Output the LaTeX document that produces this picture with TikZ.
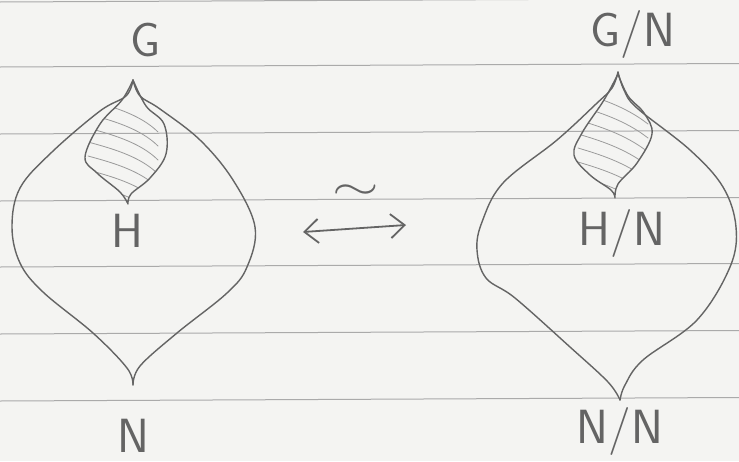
\documentclass[tikz,border=0pt]{standalone}
\usepackage{tikz}
\usepackage{graphicx}
\usetikzlibrary{arrows.meta,positioning}
\definecolor{paper}{RGB}{244,244,242}
\definecolor{rule}{RGB}{170,170,170}
\definecolor{pencil}{RGB}{100,100,100}
\definecolor{shade}{RGB}{155,155,155}

% inner (shaded) lobes
\newcommand{\innerL}{plot[smooth, tension=0.6] coordinates {(133,80) (122,100) (100,124) (85,157) (97,173) (120,192) (128,204)}
  -- plot[smooth, tension=0.6] coordinates {(128,204) (131,194) (150,178) (166,154) (164,124) (146,106) (133,80)}}
\newcommand{\innerR}{plot[smooth, tension=0.6] coordinates {(618,74) (604,100) (582,133) (574,155) (590,175) (611,190) (615,198)}
  -- plot[smooth, tension=0.6] coordinates {(615,198) (618,184) (637,163) (652,134) (644,113) (628,96) (618,74)}}

\begin{document}
\begin{tikzpicture}[
  x=1pt, y=-1pt,
  outline/.style={draw=pencil, line width=1.4pt, line join=round, line cap=round},
  hatch/.style={draw=shade, line width=0.8pt, line cap=round},
  label/.style={text=pencil, font=\fontsize{48}{56}\selectfont\sffamily, inner sep=0pt},
  ruled/.style={draw=rule, line width=1pt},
]
  \fill[paper] (0,0) rectangle (739,461);
  \useasboundingbox (0,0) rectangle (739,461);

  % ruled paper
  \foreach \y in {2,67,134,201,267,334,401}
    \draw[ruled] (0,\y) -- (739,\y-3.5);

  % Left
  \draw[outline] plot[smooth, tension=0.6] coordinates {(133,80) (126,96) (100,111) (52,152) (20,188) (12,227) (20,263) (43,292) (93,333) (127,368) (133,385)};
  \draw[outline] plot[smooth, tension=0.6] coordinates {(133,80) (140,96) (160,109) (200,140) (233,180) (255,227) (247,267) (227,293) (177,333) (140,366) (133,385)};
  \begin{scope}
    \clip \innerL -- cycle;
    \foreach \i in {0,...,6}
      \draw[hatch] (88,100+\i*14) .. controls (110,106+\i*14) and (140,114+\i*14) .. (158,132+\i*14);
  \end{scope}
  \draw[outline] \innerL;

  \node[label] (g) at (146,40) {G};
  \node[label] (h) at (127,231) {H};
  \node[label] (n) at (133,436) {N};

  % Right
  \draw[outline] plot[smooth, tension=0.6] coordinates {(618,72) (612,88) (596,104) (557,140) (503,183) (482,222) (477,250) (486,278) (515,298) (570,347) (608,382) (620,400)};
  \draw[outline] plot[smooth, tension=0.6] coordinates {(618,72) (624,90) (637,108) (690,150) (723,187) (736,227) (730,267) (697,320) (643,360) (625,385) (620,400)};
  \begin{scope}
    \clip \innerR -- cycle;
    \foreach \i in {0,...,6}
      \draw[hatch] (578,92+\i*14) .. controls (598,98+\i*14) and (625,106+\i*14) .. (648,124+\i*14);
  \end{scope}
  \draw[outline] \innerR;

  \node[label] (gn) at (633,34) {G/N};
  \node[label] (hn) at (622,233) {H/N};
  \node[label] (nn) at (620,431) {N/N};

  % isomorphism
  \coordinate (a1) at (303,232);
  \coordinate (a2) at (406,225);
  \draw[outline, line width=1.8pt, {Straight Barb[length=14pt,width=24pt]}-{Straight Barb[length=14pt,width=24pt]}] (a1) -- (a2);
  \node[text=pencil, inner sep=0pt] (iso) at (356,192) {\scalebox{6}[4]{$\sim$}};
\end{tikzpicture}
\end{document}
